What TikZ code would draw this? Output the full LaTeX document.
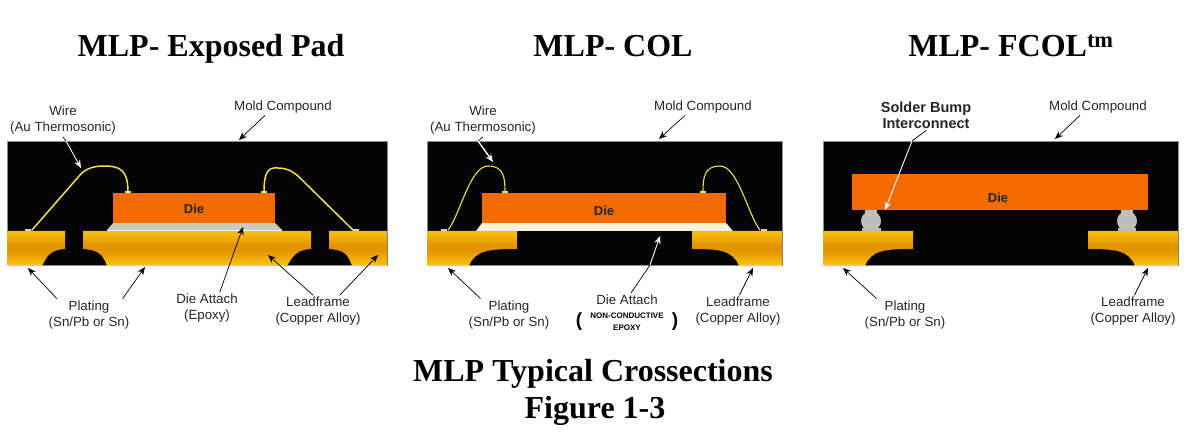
\documentclass[tikz,border=0pt]{standalone}
\usepackage{fontspec}
\setmainfont{Liberation Sans}
\newfontfamily\titlefont[BoldFont={Liberation Serif Bold}]{Liberation Serif}
\usetikzlibrary{arrows.meta,calc}
\definecolor{moldblack}{HTML}{040404}
\definecolor{dieorange}{HTML}{F26A00}
\definecolor{wireyellow}{HTML}{F0E050}
\definecolor{attachgrey}{HTML}{C9C9C1}
\definecolor{attachcream}{HTML}{F8F3DC}
\definecolor{bumpgrey}{HTML}{BDBDBD}
\definecolor{goldtop}{HTML}{F6BC0C}
\definecolor{goldmid}{HTML}{E39200}
\definecolor{goldlow}{HTML}{F5BE08}
\definecolor{goldedge}{HTML}{FBD93A}
\pgfdeclareverticalshading{goldfade}{100bp}{
 color(0bp)=(goldedge);
 color(25bp)=(goldedge);
 color(29bp)=(goldlow);
 color(48bp)=(goldmid);
 color(54bp)=(goldmid);
 color(72bp)=(goldtop);
 color(75bp)=(goldtop);
 color(100bp)=(goldtop)}
\tikzset{
 x=1pt,y=-1pt,
 mold/.style={fill=moldblack,draw=black!45,line width=.5pt},
 gold/.style={shading=goldfade},
 diebox/.style={fill=dieorange},
 dielabel/.style={font=\fontsize{13}{14}\selectfont\bfseries,text=black!85,inner sep=0pt},
 lbl/.style={font=\fontsize{13.3}{16}\selectfont,align=center,inner sep=2pt,text=black!85},
 titlelbl/.style={font=\titlefont\fontsize{32}{34}\selectfont\bfseries,inner sep=0pt,anchor=base},
 wirepath/.style={draw=wireyellow,line width=1.5pt,line cap=round},
 thinwire/.style={draw=wireyellow,line width=1.1pt,line cap=round},
 arr/.style={-{Stealth[length=8pt,width=6.5pt]},line width=.7pt,black},
 arrw/.style={-{Stealth[length=8pt,width=6.5pt]},line width=.9pt,white},
 tailb/.style={line width=.7pt,black},
 bump/.style={fill=bumpgrey},
}
\newcommand{\dotpad}[2]{\fill[wireyellow] (#1-3,#2-2) rectangle (#1+3,#2);}
\begin{document}
\begin{tikzpicture}
\useasboundingbox (0,0) rectangle (1188,438);
\fill[white] (0,0) rectangle (1188,438);
% ---------- titles
\node[titlelbl] (t1) at (211,57) {MLP- Exposed Pad};
\node[titlelbl] (t2) at (613,57) {MLP- COL};
\node[titlelbl] (t3) at (1011,57) {MLP- FCOL\textsuperscript{tm}};
\node[titlelbl] (cap1) at (593,381) {MLP Typical Crossections};
\node[titlelbl] (cap2) at (595,418) {Figure 1-3};

% ---------- panel 1
\fill[mold] (7,141) rectangle (387,265);
\fill[gold] (7,231)--(65,231)--(65,249) .. controls (50,250) and (47,256) .. (42,266)--(7,266)--cycle;
\fill[gold] (83,231)--(311,231)--(311,249) .. controls (296,250) and (293,256) .. (287,266)--(107,266) .. controls (103,254) and (98,250) .. (83,249)--cycle;
\fill[gold] (329,231)--(387,231)--(387,266)--(352,266) .. controls (348,254) and (344,250) .. (329,249)--cycle;
\fill[attachgrey] (113,223)--(275,223)--(282,230)--(107,230)--cycle;
\draw[white,line width=.6pt] (107,230.5)--(282,230.5);
\node[diebox,minimum width=162pt,minimum height=30pt,inner sep=0pt] (die1) at (194,208) {};
\node[dielabel] at (194,209) {Die};
\draw[wirepath] (32,230) -- (80,175) .. controls (86,168) and (95,166) .. (104,166) .. controls (120,166) and (128,170) .. (128,192);
\draw[wirepath] (353,230) -- (298,176) .. controls (291,170) and (285,168) .. (278,168) .. controls (268,167) and (264,172) .. (264,192);
\dotpad{128}{193}\dotpad{264}{193}\dotpad{28}{231}\dotpad{356}{231}
\node[lbl] (w1) at (63,120.5) {Wire\\(Au Thermosonic)};
\node[lbl] (m1) at (283,107) {Mold Compound};
\node[lbl] (p1) at (89,315) {Plating\\(Sn/Pb or Sn)};
\node[lbl] (a1) at (207,308.5) {Die Attach\\(Epoxy)};
\node[lbl] (l1) at (318,311.5) {Leadframe\\(Copper Alloy)};
\coordinate (w1in) at (66,141);
\coordinate (w1tip) at (81,168);
\draw[tailb] (w1.south) -- (w1in);
\draw[arrw] (w1in) -- (w1tip);
\coordinate (m1tip) at (239,140);
\draw[arr] (m1.205) -- (m1tip);
\coordinate (p1tipa) at (28,268);
\coordinate (p1tipb) at (145,267);
\draw[arr] (p1.153) -- (p1tipa);
\draw[arr] (p1.26) -- (p1tipb);
\coordinate (a1tip) at (243,227);
\draw[arr] (a1.52) -- (a1tip);
\coordinate (l1tipa) at (268,255);
\coordinate (l1tipb) at (378,255);
\draw[arr] (l1.107) -- (l1tipa);
\draw[arr] (l1.37) -- (l1tipb);

% ---------- panel 2
\fill[mold] (427,141) rectangle (782,265);
\fill[gold] (427,231)--(517,231)--(517,249) .. controls (490,249) and (475,250) .. (469,266)--(427,266)--cycle;
\fill[gold] (692,231)--(782,231)--(782,266)--(739,266) .. controls (733,250) and (718,249) .. (692,249)--cycle;
\fill[attachcream] (482,223)--(726,223)--(733,231)--(476,231)--cycle;
\node[diebox,minimum width=244pt,minimum height=30pt,inner sep=0pt] (die2) at (604,208) {};
\node[dielabel] at (604,211) {Die};
\draw[thinwire] (448,230) .. controls (460,215) and (470,166) .. (488,166) .. controls (504,166) and (505,178) .. (505,192);
\draw[thinwire] (760,230) .. controls (748,215) and (738,166) .. (720,166) .. controls (704,166) and (703,178) .. (703,192);
\dotpad{505}{193}\dotpad{703}{193}\dotpad{444}{231}\dotpad{764}{231}
\node[lbl] (w2) at (483,120.5) {Wire\\(Au Thermosonic)};
\node[lbl] (m2) at (703,107) {Mold Compound};
\node[lbl] (p2) at (509,315) {Plating\\(Sn/Pb or Sn)};
\node[lbl] (a2) at (627,300) {Die Attach};
\node[inner sep=0pt,align=center,font=\fontsize{8}{12}\selectfont\bfseries] (a2b) at (627,322) {NON-CONDUCTIVE\\EPOXY};
\node[inner sep=0pt,font=\fontsize{19}{19}\selectfont\bfseries] (a2l) at (579,322) {(};
\node[inner sep=0pt,font=\fontsize{19}{19}\selectfont\bfseries] (a2r) at (675,322) {)};
\node[lbl] (l2) at (738,311.5) {Leadframe\\(Copper Alloy)};
\coordinate (w2in) at (478,141);
\coordinate (w2tip) at (493,162);
\draw[tailb] (w2.south) -- (w2in);
\draw[arrw,line width=1.4pt] (w2in) -- (w2tip);
\coordinate (m2tip) at (659,139);
\draw[arr] (m2.205) -- (m2tip);
\coordinate (p2tip) at (448,268);
\draw[arr] (p2.150) -- (p2tip);
\coordinate (a2in) at (650,265);
\coordinate (a2tip) at (660,236);
\draw[tailb] (a2.60) -- (a2in);
\draw[arrw] (a2in) -- (a2tip);
\coordinate (l2tip) at (753,268);
\draw[arr] (l2.85) -- (l2tip);

% ---------- panel 3
\fill[mold] (823,141) rectangle (1178,265);
\fill[gold] (823,231)--(913,231)--(913,249) .. controls (886,249) and (871,250) .. (865,266)--(823,266)--cycle;
\fill[gold] (1088,231)--(1178,231)--(1178,266)--(1135,266) .. controls (1129,250) and (1114,249) .. (1088,249)--cycle;
\node[diebox,minimum width=296pt,minimum height=36pt,inner sep=0pt] (die3) at (1000,192) {};
\node[dielabel] at (998,198) {Die};
\fill[bump] (865,210) rectangle (877,214);
\fill[bump] (862,228) rectangle (881,231);
\fill[bump] (871,221) circle[radius=10pt];
\fill[bump] (1121,210) rectangle (1133,214);
\fill[bump] (1118,228) rectangle (1136,231);
\fill[bump] (1127,221) circle[radius=10pt];
\node[lbl,font=\fontsize{14.5}{16}\selectfont\bfseries] (s3) at (926,115) {Solder Bump\\Interconnect};
\node[lbl] (m3) at (1098,107) {Mold Compound};
\node[lbl] (p3) at (905,315) {Plating\\(Sn/Pb or Sn)};
\node[lbl] (l3) at (1133,311.5) {Leadframe\\(Copper Alloy)};
\coordinate (s3in) at (912,141);
\coordinate (s3tip) at (885,210);
\draw[tailb] (s3.south) -- (s3in);
\draw[arrw] (s3in) -- (s3tip);
\coordinate (m3tip) at (1055,139);
\draw[arr] (m3.205) -- (m3tip);
\coordinate (p3tip) at (843,268);
\draw[arr] (p3.150) -- (p3tip);
\coordinate (l3tip) at (1148,268);
\draw[arr] (l3.85) -- (l3tip);
\end{tikzpicture}
\end{document}
